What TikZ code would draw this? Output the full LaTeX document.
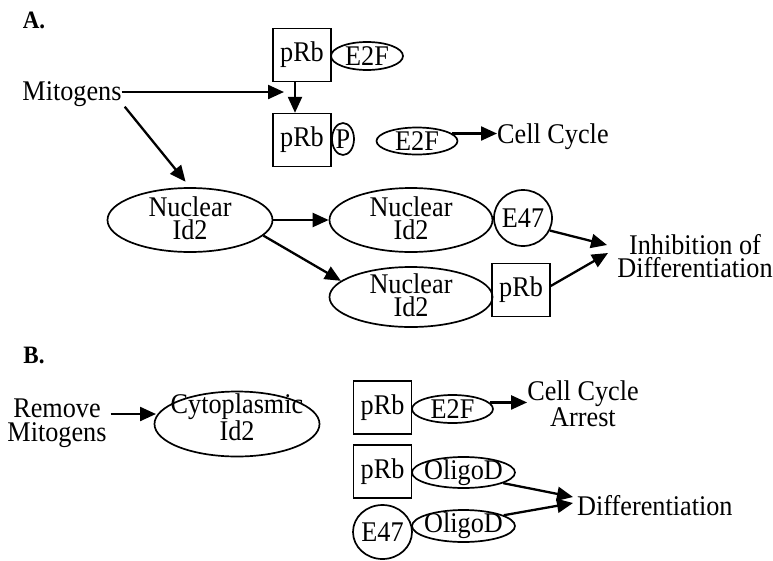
\documentclass[tikz,border=0pt]{standalone}
\usepackage{fontspec}
\setmainfont{Liberation Serif}[FakeStretch=0.92]
\usetikzlibrary{arrows.meta,shapes.geometric}
\begin{document}
\begin{tikzpicture}[x=1pt,y=-1pt,
  every node/.style={font=\fontsize{28.5}{23.5}\selectfont, inner sep=0pt, align=center},
  panel/.style={font=\bfseries\fontsize{25}{25}\selectfont},
  oval/.style={draw, ellipse, line width=1.7pt},
  sq/.style={draw, rectangle, line width=1.4pt, minimum width=58pt, minimum height=53pt},
  arr/.style={line width=2.3pt, -{Triangle[length=16pt,width=14pt]}},
]
\useasboundingbox (0,0) rectangle (773,560);

% ---------------- Panel A ----------------
\node[panel] (labA) at (34,20) {A.};

\node[sq] (rbtop) at (302,55) {pRb};
\node[oval, minimum width=72pt, minimum height=28pt, label={center:E2F}] (e2ftop) at (367,56) {};

\node (mito) at (72,94) {Mitogens};
\coordinate (meet) at (284,92);

\node[sq] (rbp) at (302,140) {pRb};
\node[oval, minimum width=22pt, minimum height=32pt, label={center:P}] (phos) at (343,139) {};
\node[oval, minimum width=81pt, minimum height=27pt, label={center:E2F}] (e2ffree) at (417,141) {};
\node[anchor=west] (cycle) at (497,137) {Cell Cycle};

\draw[arr] (mito.east |- meet) -- (meet);
\draw[arr] ([xshift=-7pt]rbtop.south) -- ([xshift=-7pt]rbp.north);
\draw[arr] (e2ffree.12) -- (e2ffree.12 -| cycle.west);

% nuclear Id2 and its partners
\node[oval, minimum width=165pt, minimum height=64pt] (id2) at (190,220) {};
\node (id2txt) at (190,218) {Nuclear\\Id2};

\node[oval, minimum width=163pt, minimum height=64pt] (id2e) at (411,220) {};
\node (id2etxt) at (411,218) {Nuclear\\Id2};
\node[oval, minimum width=58pt, minimum height=56pt, label={center:E47}] (e47) at (523,218) {};

\node[oval, minimum width=163pt, minimum height=60pt] (id2r) at (411,297) {};
\node (id2rtxt) at (411,295) {Nuclear\\Id2};
\node[sq] (rbA) at (521,290) {pRb};

\node (inhib) at (695,256) {Inhibition of\\Differentiation};
\coordinate (inhA) at (607,245);
\coordinate (inhB) at (608,253);

\draw[arr, shorten >=7pt] ([xshift=3pt]mito.south east) -- (id2.north);
\draw[arr] (id2.east) -- (id2e.west);
\draw[arr] (id2.-12) -- (id2r.167);
\draw[arr] (e47.-25) -- (inhA);
\draw[arr] ([yshift=4pt]rbA.east) -- (inhB);

% ---------------- Panel B ----------------
\node[panel] (labB) at (34,355) {B.};

\node (remove) at (57,423) {Remove\\Mitogens};
\node[oval, minimum width=165pt, minimum height=65pt] (cyto) at (237,424) {};
\node (cytotxt) at (237,417) {Cytoplasmic\\Id2};
\coordinate (cytoin) at (156,414);
\draw[arr, shorten <=4pt] (remove.east |- cytoin) -- (cytoin);

\node[sq] (rbE) at (382.5,407.5) {pRb};
\node[oval, minimum width=81pt, minimum height=28pt, label={center:E2F}] (e2fB) at (452.5,409) {};
\node (arrest) at (583,404) {Cell Cycle\\Arrest};
\draw[arr] (e2fB.10) -- (e2fB.10 -| arrest.west);

\node[sq] (rbO) at (382.5,471.5) {pRb};
\node[oval, minimum width=103pt, minimum height=31pt, label={center:OligoD}] (oliA) at (463.5,472.5) {};
\node[oval, minimum width=59pt, minimum height=54pt, label={center:E47}] (e47B) at (382.5,532) {};
\node[oval, minimum width=103pt, minimum height=32pt, label={center:OligoD}] (oliB) at (463.5,526) {};

\node[anchor=west] (diff) at (577,506) {Differentiation};
\coordinate (diffA) at (573,497);
\coordinate (diffB) at (573,503);
\draw[arr] (oliA.-15) -- (diffA);
\draw[arr] (oliB.15) -- (diffB);
\end{tikzpicture}
\end{document}
